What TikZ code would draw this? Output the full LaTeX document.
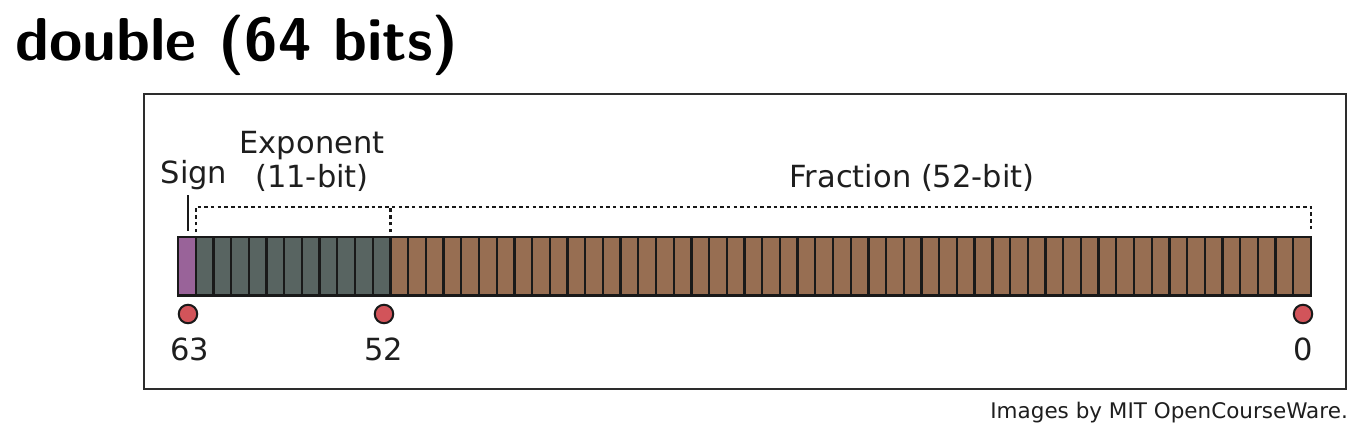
\documentclass[tikz,border=0pt]{standalone}
\usepackage{fontspec}
\setmainfont{DejaVu Sans}
\definecolor{signc}{RGB}{153,99,153}
\definecolor{expc}{RGB}{88,100,97}
\definecolor{fracc}{RGB}{151,110,82}
\definecolor{dotc}{RGB}{210,84,90}
\definecolor{framec}{RGB}{45,45,45}
\definecolor{txtc}{RGB}{30,30,30}
\tikzset{
  cell/.style={draw=black!90, line width=2.3pt, minimum width=17.703pt, minimum height=58.5pt, inner sep=0pt, anchor=north west, outer sep=0pt},
  bitdot/.style={circle, draw=black!90, line width=2pt, fill=dotc, minimum size=18.5pt, inner sep=0pt},
  lbl/.style={text=txtc, font=\fontsize{30.5}{34}\selectfont, inner sep=0pt},
  bracket/.style={line width=2.2pt, dash pattern=on 3.5pt off 3.2pt, draw=black!90}
}
\begin{document}
\begin{tikzpicture}[x=1pt,y=-1pt]
\useasboundingbox (0,0) rectangle (1360,428);
\node[anchor=base west, inner sep=0pt, font=\sffamily\bfseries\fontsize{60.5}{70}\selectfont] (title) at (15,60) {double (64 bits)};
\node[draw=framec, line width=2.2pt, minimum width=1202pt, minimum height=295pt, anchor=north west, inner sep=0pt] (frame) at (143,93) {};
% cells
\node[cell, fill=signc] (b63) at (178,237) {};
\foreach \i in {1,...,11}{
  \pgfmathtruncatemacro\bit{63-\i}
  \node[cell, fill=expc] (b\bit) at (178+\i*17.703,237) {};
}
\foreach \i in {12,...,63}{
  \pgfmathtruncatemacro\bit{63-\i}
  \node[cell, fill=fracc] (b\bit) at (178+\i*17.703,237) {};
}
% dots and numbers
\node[bitdot] (d63) at (188,314) {};
\node[bitdot] (d52) at (384,314) {};
\node[bitdot] (d0) at (1303,314) {};
\node[lbl, anchor=base] (n63) at (190,360) {63};
\node[lbl, anchor=base] (n52) at (384,360) {52};
\node[lbl, anchor=base] (n0) at (1303,360) {0};
% labels
\node[lbl, anchor=base] (sign) at (194,183) {Sign};
\node[lbl, anchor=base] (expa) at (312,153) {Exponent};
\node[lbl, anchor=base] (expb) at (312,187) {(11-bit)};
\node[lbl, anchor=base] (frac) at (912,187) {Fraction (52-bit)};
% sign tick
\coordinate (st) at (188,195);
\coordinate (sb) at (188,231);
\draw[line width=2pt, draw=black!90] (st) -- (sb);
% dashed brackets
\coordinate (top) at (0,207);
\draw[bracket] ([yshift=5pt]b62.north west) -- (b62.north west |- top) -- (b0.north east |- top) -- ([yshift=5pt]b0.north east);
\draw[bracket] ([yshift=5pt]b52.north east) -- (b52.north east |- top);
% caption
\node[anchor=base east, inner sep=0pt, text=txtc, font=\fontsize{21.5}{24}\selectfont] (cap) at (1348,418) {Images by MIT OpenCourseWare.};
\end{tikzpicture}
\end{document}
